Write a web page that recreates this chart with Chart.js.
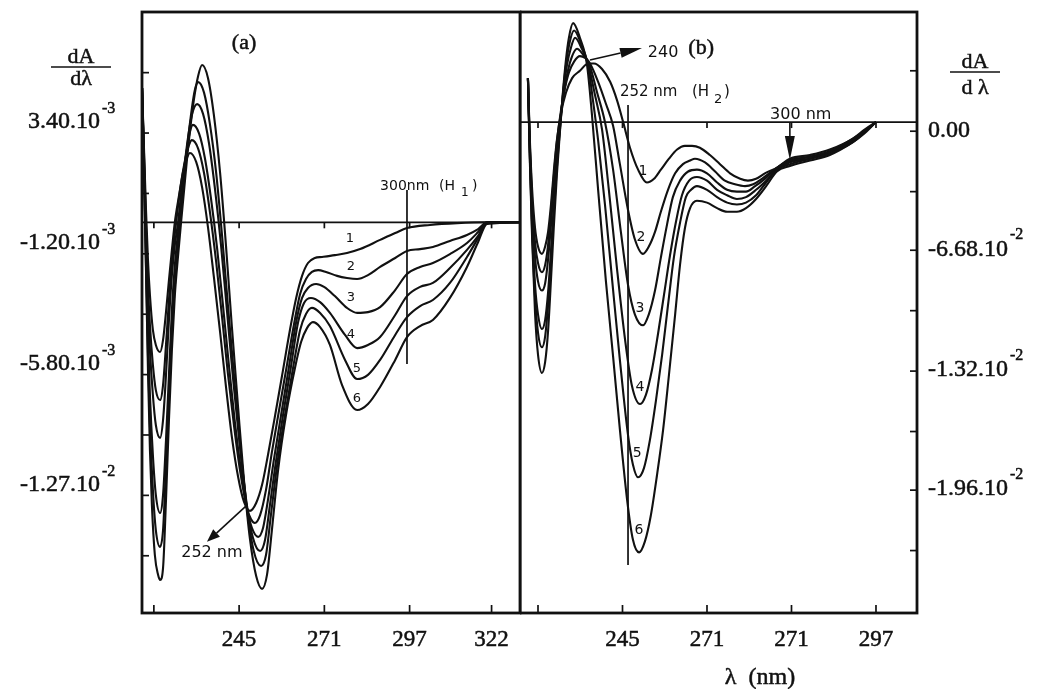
<!DOCTYPE html>
<html>
<head>
<meta charset="utf-8">
<script src="https://cdn.jsdelivr.net/npm/chart.js@4.4.1/dist/chart.umd.min.js"></script>
<style>
  html, body { margin: 0; padding: 0; background: #fff; }
  #wrap { position: relative; width: 1042px; height: 689px; background: #fff; overflow: hidden; }
  canvas { position: absolute; top: 0; }
  #cA { left: 0; }
  #cB { left: 520px; }
</style>
</head>
<body>
<div id="wrap">
  <canvas id="cA" width="524" height="689"></canvas>
  <canvas id="cB" width="522" height="689"></canvas>
</div>
<script>
// ---- axes: wavelength ticks (nm) and the text printed under them ----
const WL_TICKS_A = [219, 245, 271, 297, 322];
const WL_TEXT_A  = ['', '245', '271', '297', '322'];
const WL_TICKS_B = [219, 245, 271, 297, 323];
const WL_TEXT_B  = ['', '245', '271', '271', '297'];

// ---- ordinate ticks: panel (a) in 1e-3 units, panel (b) in 1e-2 units ----
const DA_TICKS_A = [5.7, 3.4, 1.1, -1.2, -3.5, -5.8, -8.1, -10.4, -12.7];
const DA_TEXT_A  = ['', '3.40.10', '', '-1.20.10', '', '-5.80.10', '', '-1.27.10', ''];
const DA_EXP_A   = ['', '-3', '', '-3', '', '-3', '', '-2', ''];
const DA_TICKS_B = [0.28, -0.05, -0.38, -0.70, -1.03, -1.36, -1.69, -2.01, -2.34];
const DA_TEXT_B  = ['', '0.00', '', '-6.68.10', '', '-1.32.10', '', '-1.96.10', ''];
const DA_EXP_B   = ['', '', '', '-2', '', '-2', '', '-2', ''];

const X_RANGE_A = [215.38, 330.67];
const Y_RANGE_A = [-14.88, 8.01];
const X_RANGE_B = [213.46, 335.62];
const Y_RANGE_B = [-2.681, 0.601];

// ---- panel (a): first-derivative spectra 1..6, [nm, dA/dλ x1e-3] ----
const A1 = [[215.4,5.11],[216.0,2.75],[216.6,0.47],[217.2,-1.44],[217.8,-2.77],[218.7,-4.10],[219.6,-4.67],[220.9,-4.94],[221.8,-4.48],[222.7,-3.42],[223.6,-2.20],[224.5,-1.05],[225.4,0.01],[226.7,1.04],[227.9,1.92],[229.1,2.45],[230.0,2.64],[231.9,2.30],[233.7,1.34],[235.5,-0.18],[237.3,-2.08],[239.2,-4.18],[241.0,-6.27],[242.8,-8.18],[244.7,-9.70],[246.5,-10.65],[248.3,-10.99],[250.2,-10.69],[252.0,-10.00],[253.8,-8.86],[256.0,-7.34],[258.4,-5.62],[260.5,-4.10],[262.4,-2.88],[264.2,-2.04],[266.0,-1.55],[268.1,-1.36],[270.3,-1.32],[274.2,-1.25],[277.9,-1.17],[281.9,-1.02],[288.0,-0.67],[292.6,-0.41],[296.2,-0.22],[303.2,-0.10],[311.5,-0.03],[320.6,0],[330.7,0]];
const A2 = [[215.4,5.11],[216.0,2.56],[216.6,-0.10],[217.2,-2.39],[217.8,-3.91],[218.7,-5.43],[219.6,-6.39],[220.9,-6.77],[221.8,-6.20],[222.7,-4.67],[223.6,-2.96],[224.5,-1.51],[225.8,0.01],[227.0,1.23],[228.5,2.37],[229.7,2.94],[230.6,3.13],[232.5,2.81],[234.3,1.88],[236.1,0.39],[238.0,-1.51],[239.8,-3.61],[241.6,-5.78],[243.5,-7.80],[245.3,-9.47],[247.4,-10.88],[248.6,-11.30],[249.8,-11.45],[251.4,-11.15],[253.2,-10.19],[255.0,-8.75],[257.2,-7.15],[259.6,-5.43],[261.7,-3.91],[263.6,-2.73],[265.4,-2.16],[267.2,-1.89],[269.1,-1.82],[271.5,-1.89],[274.9,-2.04],[277.9,-2.12],[281.0,-2.16],[284.3,-2.01],[288.0,-1.70],[292.6,-1.36],[296.2,-1.09],[300.2,-1.02],[304.1,-0.94],[309.3,-0.71],[314.5,-0.48],[317.9,-0.26],[320.6,0],[330.7,0]];
const A3 = [[215.4,5.11],[216.0,2.37],[216.6,-0.67],[217.2,-3.15],[217.8,-4.86],[218.7,-6.58],[219.6,-7.72],[220.9,-8.21],[221.8,-7.53],[222.7,-5.81],[223.6,-3.72],[224.5,-2.01],[225.4,-0.86],[226.4,0.01],[227.6,1.42],[228.8,2.56],[230.0,3.44],[230.9,3.71],[232.8,3.38],[234.6,2.42],[236.4,0.93],[238.3,-1.00],[240.1,-3.19],[241.9,-5.46],[243.7,-7.60],[245.6,-9.47],[247.4,-10.90],[248.9,-11.64],[250.8,-11.98],[252.3,-11.64],[253.8,-10.57],[255.6,-9.05],[257.8,-7.34],[260.2,-5.51],[262.4,-3.80],[264.2,-2.88],[266.0,-2.50],[268.5,-2.35],[270.9,-2.46],[274.2,-2.81],[277.9,-3.26],[281.0,-3.45],[284.3,-3.42],[288.0,-3.23],[292.6,-2.58],[296.2,-1.97],[300.2,-1.70],[304.1,-1.55],[309.3,-1.21],[314.5,-0.79],[317.9,-0.37],[320.6,0],[330.7,0]];
const A4 = [[215.4,5.11],[216.0,2.18],[216.6,-1.25],[217.2,-4.29],[217.8,-6.58],[218.7,-8.86],[219.6,-10.38],[220.9,-11.07],[221.8,-10.38],[222.7,-8.29],[223.6,-5.81],[224.5,-3.34],[225.4,-1.63],[226.7,0.01],[227.9,1.61],[229.1,2.94],[230.6,4.09],[232.2,4.50],[234.0,4.13],[235.8,3.02],[237.6,1.31],[239.5,-0.90],[241.3,-3.37],[243.1,-5.89],[245.0,-8.25],[247.4,-10.79],[249.2,-12.01],[251.4,-12.52],[252.9,-12.10],[254.4,-10.77],[256.2,-9.13],[258.4,-7.34],[260.8,-5.51],[263.0,-3.80],[264.8,-3.07],[266.9,-2.88],[269.7,-3.04],[272.7,-3.45],[277.3,-4.29],[281.0,-4.79],[284.3,-4.67],[288.0,-4.37],[292.6,-3.53],[296.2,-2.81],[300.2,-2.46],[304.1,-2.31],[309.3,-1.74],[314.5,-1.05],[317.9,-0.52],[320.6,0],[330.7,0]];
const A5 = [[215.4,5.11],[216.0,1.99],[216.6,-1.63],[217.2,-5.05],[217.8,-7.72],[218.7,-10.19],[219.6,-11.72],[220.9,-12.36],[221.8,-11.72],[222.4,-10.19],[223.3,-7.53],[224.2,-4.86],[225.2,-2.77],[226.1,-1.25],[227.0,0.01],[228.2,1.61],[229.4,3.13],[230.6,4.35],[231.5,5.04],[232.5,5.34],[234.3,4.94],[236.1,3.74],[238.0,1.88],[239.8,-0.51],[241.6,-3.18],[243.5,-5.92],[245.3,-8.48],[247.4,-10.92],[249.5,-12.54],[251.7,-13.09],[253.2,-12.67],[254.7,-11.15],[256.6,-9.24],[259.0,-7.34],[261.5,-5.51],[263.6,-4.10],[265.4,-3.49],[267.2,-3.26],[269.7,-3.45],[272.7,-3.95],[277.3,-5.24],[281.0,-5.97],[284.3,-5.81],[288.0,-5.24],[292.6,-4.29],[296.2,-3.61],[300.2,-3.19],[304.1,-2.96],[309.3,-2.31],[314.5,-1.32],[317.9,-0.60],[320.6,-0.03],[330.7,0]];
const A6 = [[215.4,5.11],[216.0,1.99],[216.6,-1.82],[217.2,-5.62],[217.8,-8.67],[218.4,-10.77],[219.3,-12.67],[220.3,-13.43],[220.9,-13.62],[221.8,-13.16],[222.7,-10.57],[223.6,-7.53],[224.5,-4.86],[225.4,-2.77],[226.4,-1.25],[227.3,0.01],[228.5,1.61],[229.7,3.13],[231.2,4.66],[232.5,5.57],[233.7,5.99],[235.5,5.50],[237.3,4.09],[239.2,1.88],[241.0,-0.90],[242.8,-3.99],[244.7,-7.07],[246.5,-9.85],[248.3,-12.06],[250.2,-13.47],[252.0,-13.96],[253.5,-13.43],[255.0,-11.72],[256.9,-9.43],[259.3,-7.34],[262.1,-5.51],[263.9,-4.56],[265.7,-4.03],[267.5,-3.80],[269.7,-3.99],[272.7,-4.67],[276.4,-6.20],[281.0,-7.15],[284.3,-6.92],[288.0,-6.27],[292.6,-5.24],[296.2,-4.37],[300.2,-3.95],[304.1,-3.72],[309.3,-2.88],[314.5,-1.70],[317.9,-0.75],[320.6,-0.06],[330.7,0]];

// ---- panel (b): first-derivative spectra 1..6, [nm, dA/dλ x1e-2] ----
const B1 = [[215.9,0.24],[216.5,-0.10],[217.2,-0.37],[218.1,-0.58],[219.0,-0.68],[220.2,-0.72],[221.2,-0.68],[222.1,-0.60],[223.0,-0.45],[223.9,-0.26],[224.8,-0.10],[226.1,0.05],[227.6,0.16],[229.5,0.24],[231.9,0.28],[234.4,0.32],[236.2,0.32],[238.7,0.29],[241.2,0.22],[243.3,0.12],[245.2,0],[247.3,-0.14],[249.8,-0.26],[252.5,-0.33],[254.7,-0.31],[256.8,-0.26],[259.3,-0.20],[261.8,-0.15],[264.2,-0.13],[266.4,-0.13],[268.8,-0.14],[271.9,-0.18],[275.0,-0.23],[278.1,-0.28],[281.2,-0.31],[283.6,-0.32],[286.1,-0.31],[288.8,-0.28],[292.5,-0.25],[296.5,-0.20],[302.7,-0.18],[308.8,-0.15],[315.9,-0.09],[319.6,-0.04],[323.0,0]];
const B2 = [[215.9,0.24],[216.5,-0.13],[217.2,-0.43],[218.1,-0.66],[219.0,-0.77],[220.2,-0.82],[221.2,-0.78],[222.1,-0.67],[223.0,-0.49],[223.9,-0.29],[224.8,-0.11],[225.8,0.03],[227.0,0.16],[228.5,0.27],[230.1,0.33],[231.9,0.36],[233.5,0.35],[235.0,0.32],[237.5,0.22],[239.9,0.10],[242.1,-0.02],[244.2,-0.23],[246.7,-0.48],[248.8,-0.64],[251.3,-0.72],[253.1,-0.68],[255.0,-0.60],[256.8,-0.49],[259.0,-0.37],[261.2,-0.28],[263.6,-0.23],[265.8,-0.21],[267.3,-0.20],[270.4,-0.22],[273.5,-0.27],[276.5,-0.32],[279.6,-0.34],[282.7,-0.35],[285.2,-0.34],[287.9,-0.31],[292.5,-0.25],[296.5,-0.21],[302.7,-0.19],[308.8,-0.16],[315.9,-0.09],[319.6,-0.05],[323.0,0]];
const B3 = [[215.9,0.24],[216.5,-0.15],[217.2,-0.48],[218.1,-0.74],[219.0,-0.87],[220.2,-0.92],[221.2,-0.88],[222.1,-0.75],[223.0,-0.56],[223.9,-0.34],[224.8,-0.15],[225.8,0.01],[227.0,0.16],[228.2,0.28],[229.5,0.36],[231.0,0.40],[232.8,0.37],[234.7,0.32],[237.2,0.16],[239.6,0],[242.1,-0.26],[244.5,-0.60],[246.7,-0.89],[248.8,-1.05],[251.3,-1.11],[253.1,-1.05],[255.0,-0.92],[256.8,-0.74],[258.7,-0.56],[260.5,-0.41],[262.7,-0.32],[265.2,-0.27],[267.9,-0.26],[271.0,-0.28],[274.1,-0.33],[277.2,-0.37],[280.2,-0.38],[283.0,-0.38],[285.8,-0.35],[288.8,-0.31],[292.5,-0.25],[296.5,-0.21],[302.7,-0.19],[308.8,-0.16],[315.9,-0.10],[319.6,-0.05],[323.0,0]];
const B4 = [[215.9,0.24],[216.5,-0.18],[217.2,-0.56],[218.1,-0.89],[219.0,-1.05],[220.2,-1.13],[221.2,-1.08],[222.1,-0.93],[223.0,-0.70],[223.9,-0.45],[224.8,-0.22],[225.8,-0.02],[226.7,0.15],[227.9,0.31],[229.2,0.41],[230.4,0.46],[232.5,0.40],[234.4,0.32],[236.5,0.15],[238.7,-0.04],[240.8,-0.37],[243.3,-0.80],[245.8,-1.19],[247.9,-1.44],[250.4,-1.54],[252.2,-1.49],[254.1,-1.35],[255.9,-1.16],[257.8,-0.94],[259.6,-0.73],[261.5,-0.54],[263.3,-0.40],[265.5,-0.32],[267.9,-0.30],[271.0,-0.32],[274.1,-0.37],[277.2,-0.40],[280.2,-0.42],[283.0,-0.41],[286.1,-0.37],[289.2,-0.32],[292.5,-0.26],[296.5,-0.22],[302.7,-0.20],[308.8,-0.17],[315.9,-0.10],[319.6,-0.05],[323.0,0]];
const B5 = [[215.9,0.24],[216.5,-0.20],[217.2,-0.60],[218.1,-0.96],[219.0,-1.15],[220.2,-1.23],[221.2,-1.17],[222.1,-1.00],[223.0,-0.75],[223.9,-0.49],[224.8,-0.25],[225.8,-0.03],[226.7,0.16],[227.6,0.31],[228.8,0.44],[230.1,0.50],[232.2,0.43],[234.4,0.31],[235.9,0.12],[237.5,-0.10],[239.6,-0.45],[241.8,-0.86],[244.2,-1.30],[246.7,-1.71],[248.2,-1.87],[249.8,-1.94],[251.6,-1.89],[253.4,-1.74],[255.3,-1.52],[257.2,-1.27],[259.0,-1.00],[260.8,-0.74],[262.7,-0.55],[264.5,-0.41],[266.1,-0.37],[267.9,-0.35],[271.0,-0.37],[274.1,-0.41],[277.2,-0.44],[280.2,-0.45],[283.0,-0.44],[286.1,-0.40],[289.2,-0.33],[292.5,-0.26],[296.5,-0.23],[302.7,-0.20],[308.8,-0.17],[315.9,-0.11],[319.6,-0.05],[323.0,0]];
const B6 = [[215.9,0.24],[216.5,-0.22],[217.2,-0.64],[218.1,-1.05],[219.0,-1.27],[220.2,-1.37],[221.2,-1.31],[222.1,-1.14],[223.0,-0.86],[223.9,-0.56],[224.8,-0.29],[225.8,-0.04],[226.7,0.17],[227.6,0.34],[228.5,0.46],[229.8,0.54],[231.9,0.46],[234.1,0.31],[235.6,0.04],[237.5,-0.37],[239.9,-0.87],[242.1,-1.28],[244.2,-1.68],[246.4,-2.06],[248.2,-2.28],[250.1,-2.35],[251.9,-2.29],[253.7,-2.15],[255.6,-1.93],[257.5,-1.68],[259.3,-1.38],[261.2,-1.05],[262.7,-0.78],[264.2,-0.58],[265.8,-0.47],[267.9,-0.43],[271.0,-0.44],[274.1,-0.47],[277.2,-0.49],[280.2,-0.49],[283.0,-0.47],[286.1,-0.42],[289.2,-0.35],[292.5,-0.27],[296.5,-0.24],[302.7,-0.21],[308.8,-0.18],[315.9,-0.11],[319.6,-0.06],[323.0,0]];

// ---- curve numbers and their anchors (data units) ----
const CURVE_NO = ['1', '2', '3', '4', '5', '6'];
const NO_AT_A = [[278.8,-0.64],[279.1,-1.67],[279.1,-2.85],[279.1,-4.26],[280.9,-5.57],[280.9,-6.73]];
const NO_AT_B = [[251.3,-0.27],[250.7,-0.63],[250.4,-1.02],[250.4,-1.45],[249.5,-1.81],[250.1,-2.23]];

// ---- marker lines and arrows (data units) ----
const H1_LINE = [296.2, 1.23, -5.40];          // nm, top, bottom
const H1_TEXT_AT = [288.0, 1.38];
const ISO_A_ARROW = [247.4, -10.77, 235.2, -12.17];
const ISO_A_TEXT_AT = [236.7, -12.59];
const H2_LINE = [246.7, 0.093, -2.419];
const H2_TEXT_AT = [244.2, 0.164];
const ISO_B_ARROW = [235.0, 0.339, 251.0, 0.404];
const ISO_B_TEXT_AT = [252.8, 0.377];
const NM300_ARROW = [296.5, 0, -0.207];
const NM300_TEXT_AT = [290.4, 0.038];
const PANEL_A_AT = [246.5, 6.83];
const PANEL_B_AT = [269.2, 0.404];

const SERIF = '"Liberation Serif", "Times New Roman", serif';
const SANS = '"DejaVu Sans", "Liberation Sans", sans-serif';
const INK = '#111';

function seg(ctx, x1, y1, x2, y2) {
  ctx.beginPath(); ctx.moveTo(x1, y1); ctx.lineTo(x2, y2); ctx.stroke();
}

// printed text, slightly heavy like the typeset original
function ink(ctx, s, x, y) {
  ctx.fillText(s, x, y);
  ctx.save();
  ctx.lineWidth = 0.5;
  ctx.strokeText(s, x, y);
  ctx.restore();
}

function arrow(ctx, x1, y1, x2, y2, len, half) {
  const a = Math.atan2(y2 - y1, x2 - x1);
  const bx = x2 - len * Math.cos(a), by = y2 - len * Math.sin(a);
  seg(ctx, x1, y1, bx, by);
  ctx.beginPath();
  ctx.moveTo(x2, y2);
  ctx.lineTo(bx + half * Math.sin(a), by - half * Math.cos(a));
  ctx.lineTo(bx - half * Math.sin(a), by + half * Math.cos(a));
  ctx.closePath();
  ctx.fill();
}

// main text with a raised exponent; align refers to the main text
function supText(ctx, main, exp, x, y, align, size, expSize, rise) {
  ctx.textBaseline = 'middle';
  ctx.textAlign = 'left';
  ctx.font = size + 'px ' + SERIF;
  const w = ctx.measureText(main).width;
  const x0 = align === 'right' ? x - w : x;
  ink(ctx, main, x0, y);
  if (exp) {
    ctx.font = expSize + 'px ' + SERIF;
    ink(ctx, exp, x0 + w + 2, y - rise);
  }
}

function fraction(ctx, cx, yTop, yBar, yBot, half, bottomText) {
  ctx.font = '22px ' + SERIF;
  ctx.textAlign = 'center';
  ctx.textBaseline = 'middle';
  ink(ctx, 'dA', cx, yTop);
  ink(ctx, bottomText, cx, yBot);
  ctx.lineWidth = 1.4;
  seg(ctx, cx - half, yBar, cx + half, yBar);
}

function frame(ctx, ca) {
  ctx.lineWidth = 2.8;
  ctx.strokeStyle = INK;
  ctx.strokeRect(ca.left, ca.top, ca.right - ca.left, ca.bottom - ca.top);
}

const decoA = {
  id: 'decoA',
  beforeDatasetsDraw(chart) {
    const { ctx, chartArea: ca, scales: { x, y } } = chart;
    ctx.save();
    ctx.strokeStyle = INK;
    ctx.lineWidth = 1.7;
    const y0 = y.getPixelForValue(0);
    seg(ctx, ca.left, y0, ca.right, y0);
    WL_TICKS_A.forEach(v => {
      const px = x.getPixelForValue(v);
      seg(ctx, px, ca.bottom, px, ca.bottom - 8);
      seg(ctx, px, y0, px, y0 + 6);
    });
    DA_TICKS_A.forEach(v => {
      const py = y.getPixelForValue(v);
      seg(ctx, ca.left, py, ca.left + 7, py);
    });
    ctx.restore();
  },
  afterDatasetsDraw(chart) {
    const { ctx, chartArea: ca, scales: { x, y } } = chart;
    ctx.save();
    frame(ctx, ca);
    ctx.fillStyle = INK;
    ctx.strokeStyle = INK;

    // wavelength labels
    ctx.font = '23px ' + SERIF;
    ctx.textAlign = 'center';
    ctx.textBaseline = 'middle';
    WL_TICKS_A.forEach((v, i) => {
      if (WL_TEXT_A[i]) ink(ctx, WL_TEXT_A[i], x.getPixelForValue(v), ca.bottom + 27);
    });

    // ordinate labels
    DA_TICKS_A.forEach((v, i) => {
      if (!DA_TEXT_A[i]) return;
      supText(ctx, DA_TEXT_A[i], DA_EXP_A[i], ca.left - 42, y.getPixelForValue(v) - 11, 'right', 24, 16, 13);
    });

    // axis title
    fraction(ctx, ca.left - 61, 57, 67, 79, 30, 'dλ');

    // panel tag
    ctx.font = '22px ' + SERIF;
    ctx.textAlign = 'center';
    ink(ctx, '(a)', x.getPixelForValue(PANEL_A_AT[0]), y.getPixelForValue(PANEL_A_AT[1]));

    // 300 nm marker
    ctx.lineWidth = 1.7;
    const hx = x.getPixelForValue(H1_LINE[0]);
    seg(ctx, hx, y.getPixelForValue(H1_LINE[1]), hx, y.getPixelForValue(H1_LINE[2]));
    const tx = x.getPixelForValue(H1_TEXT_AT[0]), ty = y.getPixelForValue(H1_TEXT_AT[1]);
    ctx.textAlign = 'left';
    ctx.font = '14px ' + SANS;
    ctx.fillText('300nm', tx, ty);
    ctx.fillText('(H', tx + 59, ty);
    ctx.font = '12px ' + SANS;
    ctx.fillText('1', tx + 81, ty + 7);
    ctx.font = '14px ' + SANS;
    ctx.fillText(')', tx + 92, ty);

    // isosbestic arrow
    ctx.lineWidth = 1.6;
    arrow(ctx, x.getPixelForValue(ISO_A_ARROW[0]), y.getPixelForValue(ISO_A_ARROW[1]),
      x.getPixelForValue(ISO_A_ARROW[2]), y.getPixelForValue(ISO_A_ARROW[3]), 13, 5);
    ctx.font = '16px ' + SANS;
    ctx.textAlign = 'center';
    ctx.fillText('252 nm', x.getPixelForValue(ISO_A_TEXT_AT[0]), y.getPixelForValue(ISO_A_TEXT_AT[1]));

    // curve numbers
    ctx.font = '13px ' + SANS;
    NO_AT_A.forEach((p, i) => ctx.fillText(CURVE_NO[i], x.getPixelForValue(p[0]), y.getPixelForValue(p[1])));
    ctx.restore();
  }
};

const decoB = {
  id: 'decoB',
  beforeDatasetsDraw(chart) {
    const { ctx, chartArea: ca, scales: { x, y } } = chart;
    ctx.save();
    ctx.strokeStyle = INK;
    ctx.lineWidth = 1.7;
    const y0 = y.getPixelForValue(0);
    seg(ctx, ca.left, y0, ca.right, y0);
    WL_TICKS_B.forEach(v => {
      const px = x.getPixelForValue(v);
      seg(ctx, px, ca.bottom, px, ca.bottom - 8);
      seg(ctx, px, y0, px, y0 + 6);
    });
    DA_TICKS_B.forEach(v => {
      const py = y.getPixelForValue(v);
      seg(ctx, ca.right, py, ca.right - 7, py);
    });
    ctx.restore();
  },
  afterDatasetsDraw(chart) {
    const { ctx, chartArea: ca, scales: { x, y } } = chart;
    ctx.save();
    frame(ctx, ca);
    ctx.fillStyle = INK;
    ctx.strokeStyle = INK;

    ctx.font = '23px ' + SERIF;
    ctx.textAlign = 'center';
    ctx.textBaseline = 'middle';
    WL_TICKS_B.forEach((v, i) => {
      if (WL_TEXT_B[i]) ink(ctx, WL_TEXT_B[i], x.getPixelForValue(v), ca.bottom + 27);
    });
    ctx.font = '24px ' + SERIF;
    ink(ctx, 'λ  (nm)', ca.left + 240, 678);

    DA_TICKS_B.forEach((v, i) => {
      if (!DA_TEXT_B[i]) return;
      supText(ctx, DA_TEXT_B[i], DA_EXP_B[i], ca.right + 11, y.getPixelForValue(v) - 1, 'left', 24, 16, 14);
    });

    fraction(ctx, ca.right + 58, 62, 72, 88, 25, 'd λ');

    ctx.font = '22px ' + SERIF;
    ctx.textAlign = 'center';
    ink(ctx, '(b)', x.getPixelForValue(PANEL_B_AT[0]), y.getPixelForValue(PANEL_B_AT[1]));

    // 252 nm (H2) marker
    ctx.lineWidth = 1.7;
    const hx = x.getPixelForValue(H2_LINE[0]);
    seg(ctx, hx, y.getPixelForValue(H2_LINE[1]), hx, y.getPixelForValue(H2_LINE[2]));
    const tx = x.getPixelForValue(H2_TEXT_AT[0]), ty = y.getPixelForValue(H2_TEXT_AT[1]);
    ctx.textAlign = 'left';
    ctx.font = '15px ' + SANS;
    ctx.fillText('252 nm', tx, ty);
    ctx.fillText('(H', tx + 72, ty);
    ctx.font = '13px ' + SANS;
    ctx.fillText('2', tx + 94, ty + 8);
    ctx.font = '15px ' + SANS;
    ctx.fillText(')', tx + 104, ty);

    // 240 crossing arrow
    ctx.lineWidth = 1.6;
    arrow(ctx, x.getPixelForValue(ISO_B_ARROW[0]), y.getPixelForValue(ISO_B_ARROW[1]),
      x.getPixelForValue(ISO_B_ARROW[2]), y.getPixelForValue(ISO_B_ARROW[3]), 22, 5);
    ctx.font = '16px ' + SANS;
    ctx.fillText('240', x.getPixelForValue(ISO_B_TEXT_AT[0]), y.getPixelForValue(ISO_B_TEXT_AT[1]));

    // 300 nm arrow
    const ax = x.getPixelForValue(NM300_ARROW[0]);
    arrow(ctx, ax, y.getPixelForValue(NM300_ARROW[1]), ax, y.getPixelForValue(NM300_ARROW[2]), 24, 5);
    ctx.font = '16px ' + SANS;
    ctx.fillText('300 nm', x.getPixelForValue(NM300_TEXT_AT[0]), y.getPixelForValue(NM300_TEXT_AT[1]));

    ctx.font = '14px ' + SANS;
    ctx.textAlign = 'center';
    NO_AT_B.forEach((p, i) => ctx.fillText(CURVE_NO[i], x.getPixelForValue(p[0]), y.getPixelForValue(p[1])));
    ctx.restore();
  }
};

function series(list) {
  return list.map((pts, i) => ({
    label: CURVE_NO[i],
    data: pts.map(p => ({ x: p[0], y: p[1] })),
    borderColor: INK,
    borderWidth: 2.1,
    pointRadius: 0,
    fill: false,
    cubicInterpolationMode: 'monotone'
  }));
}

function build(id, sets, xr, yr, pad, deco) {
  return new Chart(document.getElementById(id), {
    type: 'line',
    data: { datasets: series(sets) },
    options: {
      responsive: false,
      animation: false,
      devicePixelRatio: 1,
      layout: { padding: pad },
      plugins: { legend: { display: false }, tooltip: { enabled: false } },
      scales: {
        x: { type: 'linear', min: xr[0], max: xr[1], display: false },
        y: { type: 'linear', min: yr[0], max: yr[1], display: false }
      }
    },
    plugins: [deco]
  });
}

build('cA', [A1, A2, A3, A4, A5, A6], X_RANGE_A, Y_RANGE_A,
  { left: 142, right: 4, top: 12, bottom: 76 }, decoA);
build('cB', [B1, B2, B3, B4, B5, B6], X_RANGE_B, Y_RANGE_B,
  { left: 0, right: 125, top: 12, bottom: 76 }, decoB);
</script>
</body>
</html>
